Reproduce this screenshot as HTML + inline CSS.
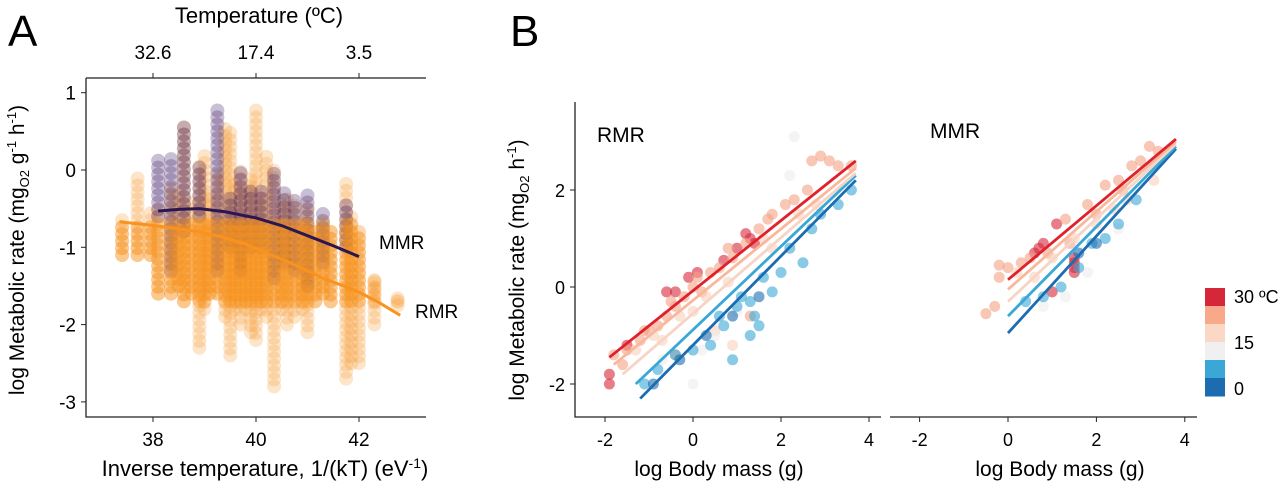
<!DOCTYPE html>
<html><head><meta charset="utf-8"><style>
body{margin:0;background:#fff;}
svg{display:block;font-family:"Liberation Sans",sans-serif;}
</style></head><body>
<svg id="c" width="1280" height="483" viewBox="0 0 1280 483">
<text x="8" y="46" font-size="44">A</text>
<text x="510" y="46" font-size="44">B</text>
<g id="pa"></g>
<g id="pb"></g>
</svg>
<script>
// ---------- Panel A data ----------
const colX = [37.4,37.7,37.95,38.1,38.35,38.5,38.6,38.75,38.9,39.0,39.1,39.25,39.4,39.5,39.6,39.7,39.8,39.9,40.0,40.1,40.2,40.35,40.5,40.6,40.75,40.9,41.0,41.15,41.3,41.45,41.75,41.85,42.0,42.3,42.75];
const rmrMax = [-0.6,-0.05,-0.5,-0.5,-0.2,-0.3,0.55,-0.4,0.1,0.2,-0.3,0.0,0.55,0.5,-0.1,0.0,-0.2,-0.1,0.8,-0.3,0.2,0.0,-0.4,-0.3,-0.4,-0.7,-0.4,-0.8,-0.7,-0.8,-0.1,-0.6,-0.8,-1.4,-1.65];
const rmrMin = [-1.1,-1.1,-1.1,-1.6,-1.6,-1.5,-1.7,-1.6,-2.3,-1.8,-1.6,-1.6,-1.9,-2.4,-1.8,-2.0,-1.8,-2.1,-2.2,-1.8,-1.9,-2.8,-1.8,-2.0,-1.9,-1.8,-2.1,-1.7,-1.6,-1.7,-2.7,-2.5,-2.5,-2.0,-1.75];
const mmrX = [38.1,38.35,38.6,38.9,39.25,39.5,39.7,39.9,40.1,40.35,40.55,40.75,41.0,41.3,41.75];
const mmrMax = [0.2,0.2,0.6,0.1,0.85,-0.3,0.0,-0.2,-0.2,0.0,-0.3,-0.4,-0.3,-0.5,-0.4];
const mmrMin = [-0.6,-1.3,-0.8,-0.6,-1.3,-1.0,-1.3,-1.0,-1.0,-1.4,-1.2,-1.3,-1.5,-1.2,-1.0];
const mmrCurveX = [38.1,38.5,38.9,39.4,40.0,40.5,41.0,41.5,42.0];
const mmrCurveY = [-0.53,-0.51,-0.5,-0.54,-0.62,-0.72,-0.85,-0.98,-1.12];
const rmrCurveX = [37.35,37.9,38.4,38.9,39.3,39.8,40.3,40.8,41.3,41.7,42.0,42.4,42.8];
const rmrCurveY = [-0.67,-0.71,-0.75,-0.8,-0.86,-0.96,-1.1,-1.24,-1.4,-1.5,-1.58,-1.72,-1.88];
const aXTicks = [38,40,42];
const aTopTicks = ["32.6","17.4","3.5"];
const aYTicks = [1,0,-1,-2,-3];

// ---------- Panel B data ----------
const catColors = ["#1b6cb0","#3aa7d6","#ececec","#fbd1bd","#f4a283","#d6263a"];
const rmrPtsX = [-1.9,-1.9,-1.5,-0.6,-0.4,-0.1,0.1,0.7,1.0,1.2,1.3,1.4,
 -1.8,-1.6,-1.2,-1.0,-0.8,-0.6,-0.4,-0.2,0,0.2,0.4,0.6,0.9,1.2,1.5,1.8,2.1,2.3,2.6,2.9,3.1,3.3,3.6,1.3,-0.4,-1.5,-1.1,-0.5,0.1,0.8,1.7,2.7,
 -1.3,-0.9,-0.3,0.3,0.8,1.6,2.4,2.8,0.5,1.8,0.9,-0.7,0.0,
 -0.7,0.2,0.5,1.0,2.2,2.3,0.0,
 -1.1,-0.8,-0.4,0,0.4,0.7,1.0,1.3,1.4,1.5,1.3,1.8,2.0,2.5,2.2,2.7,3.3,3.6,0.9,1.6,0.6,1.1,2.9,
 -0.9,-0.3,0.3,0.9,1.5];
const rmrPtsY = [-2.0,-1.8,-1.2,-0.1,-0.1,0.2,0.3,0.55,0.8,1.1,1.0,0.9,
 -1.4,-1.6,-1.1,-0.9,-0.8,-0.6,-0.4,-0.2,0,-0.1,0.3,0.4,0.6,0.9,1.2,1.5,1.7,1.8,2.0,2.7,2.6,2.5,2.5,-0.6,-1.4,-1.3,-0.9,-0.3,0.2,0.8,1.4,2.6,
 -1.3,-1.0,-0.6,-0.2,0.1,1.0,1.5,1.7,-0.9,0.8,-1.2,-1.1,-0.5,
 -1.5,-1.3,-1.0,-0.5,2.3,3.1,-2.0,
 -2.0,-1.7,-1.4,-1.3,-1.2,-0.8,-0.4,-0.3,-0.6,-0.8,-1.0,-0.1,0.3,0.5,0.8,1.2,1.7,2.0,-1.5,0.2,-0.6,-0.2,1.5,
 -2.0,-1.5,-1.0,-0.6,-0.2];
const rmrPtsC = [5,5,5,5,5,5,5,5,5,5,5,5,
 4,4,4,4,4,4,4,4,4,4,4,4,4,4,4,4,4,4,4,4,4,4,4,4,4,4,4,4,4,4,4,4,
 3,3,3,3,3,3,3,3,3,3,3,3,3,
 2,2,2,2,2,2,2,
 1,1,1,1,1,1,1,1,1,1,1,1,1,1,1,1,1,1,1,1,1,1,1,
 0,0,0,0,0];
const mmrPtsX = [0.8,0.7,0.6,1.1,1.5,1.5,1.5,1.5,1.0,
 -0.2,-0.2,-0.3,0,0.3,0.5,1.3,1.8,2.2,2.5,2.8,3.0,3.2,3.4,-0.5,1.4,2.0,0.9,2.6,
 0.2,0.6,1.0,1.5,2.0,2.4,2.7,3.3,
 0.8,1.3,1.8,2.5,
 0.4,0.8,1.2,1.6,1.9,2.2,2.5,2.9,
 1.6,2.0];
const mmrPtsY = [0.9,0.8,0.7,1.3,0.4,0.6,0.3,0.5,-0.1,
 0.45,0.2,-0.4,0.4,0.5,0.6,1.4,1.7,2.1,2.2,2.5,2.6,2.9,2.8,-0.55,0.9,1.5,0.7,2.0,
 0.3,0.2,0.6,1.0,1.3,1.6,1.8,2.2,
 -0.4,-0.2,0.3,1.2,
 -0.3,-0.2,0.0,0.4,0.9,1.0,1.3,1.8,
 0.7,0.9];
const mmrPtsC = [5,5,5,5,5,5,5,5,5,
 4,4,4,4,4,4,4,4,4,4,4,4,4,4,4,4,4,4,4,
 3,3,3,3,3,3,3,3,
 2,2,2,2,
 1,1,1,1,1,1,1,1,
 0,0];
const lineColors = ["#1b6cb0","#3aa7d6","#f6d5c6","#f8b89c","#e0202a"];
const rmrLineX0 = [-1.2,-1.3,-1.6,-1.8,-1.9];
const rmrLineY0 = [-2.3,-2.0,-1.8,-1.6,-1.45];
const rmrLineX1 = [3.7,3.7,3.7,3.7,3.7];
const rmrLineY1 = [2.2,2.3,2.35,2.45,2.6];
const mmrLineX0 = [0,0,0,0,0];
const mmrLineY0 = [-0.95,-0.6,-0.3,-0.05,0.15];
const mmrLineX1 = [3.8,3.8,3.8,3.8,3.8];
const mmrLineY1 = [2.85,2.9,2.95,3.0,3.05];
const bXTicks = [-2,0,2,4];
const bYTicks = [2,0,-2];
const legendLabels = ["30 ºC","15","0"];

const NS="http://www.w3.org/2000/svg";
function mk(p,tag,attrs,txt){const e=document.createElementNS(NS,tag);for(const k in attrs)e.setAttribute(k,attrs[k]);if(txt!==undefined)e.textContent=txt;p.appendChild(e);return e;}

// ---- Panel A ----
const pa=document.getElementById('pa');
const ax=v=>153+(v-38)*51.5, ay=v=>170-v*77.3;
mk(pa,'path',{d:'M86 78 H426 M86 78 V417 H426',fill:'none',stroke:'#222','stroke-width':1.3});
aXTicks.forEach((t,i)=>{
 const g=mk(pa,'g',{});
 
 
 mk(g,'line',{x1:ax(t),x2:ax(t),y1:417,y2:422,stroke:'#222'});
 mk(g,'text',{x:ax(t),y:446,'font-size':19,'text-anchor':'middle'},t);
 const h=mk(pa,'g',{});
 
 
 mk(h,'line',{x1:ax(t),x2:ax(t),y1:73,y2:78,stroke:'#222'});
 mk(h,'text',{x:ax(t),y:59,'font-size':19,'text-anchor':'middle'},aTopTicks[i]);
});
aYTicks.forEach(t=>{
 const g=mk(pa,'g',{});
 
 
 mk(g,'line',{x1:81,x2:86,y1:ay(t),y2:ay(t),stroke:'#222'});
 mk(g,'text',{x:76,y:ay(t)+7,'font-size':19,'text-anchor':'end'},t);
});
function column(x,y0,y1,col,op,nm){
 const g=mk(pa,'g',{});
 
 
 for(let y=y1;y<=y0+1e-9;y+=0.09){mk(g,'circle',{cx:ax(x),cy:ay(y),r:7,fill:col,'fill-opacity':op});}
}
colX.forEach((x,i)=>column(x,rmrMax[i],rmrMin[i],'#f8a040',0.28,'rmr-column'));
mmrX.forEach((x,i)=>column(x,mmrMax[i],mmrMin[i],'#3e1a66',0.28,'mmr-column'));
colX.forEach((x,i)=>column(x,Math.min(rmrMax[i],-0.7),Math.max(rmrMin[i],-1.7),'#f7931e',0.35,'rmr-core'));
let dM=mmrCurveX.map((x,i)=>(i?'L':'M')+ax(x)+' '+ay(mmrCurveY[i])).join(' ');
const lm=mk(pa,'path',{d:dM,fill:'none',stroke:'#2b1650','stroke-width':3});


let dR=rmrCurveX.map((x,i)=>(i?'L':'M')+ax(x)+' '+ay(rmrCurveY[i])).join(' ');
const lr=mk(pa,'path',{d:dR,fill:'none',stroke:'#f7931e','stroke-width':3});


</script>
<script>
const pa2=document.getElementById('pa');
pa2.insertAdjacentHTML('beforeend',
 '<text x="379" y="249" font-size="19">MMR</text>'+
 '<text x="415" y="318" font-size="19">RMR</text>'+
 '<text x="259" y="23" font-size="22" text-anchor="middle">Temperature (ºC)</text>'+
 '<text x="265" y="476" font-size="22" text-anchor="middle">Inverse temperature, 1/(kT) (eV<tspan dy="-8" font-size="14">-1</tspan><tspan dy="8">)</tspan></text>'+
 '<text transform="translate(24,250) rotate(-90)" font-size="21" text-anchor="middle">log Metabolic rate (mg<tspan dy="5" font-size="13">O2</tspan><tspan dy="-5"> g</tspan><tspan dy="-8" font-size="13">-1</tspan><tspan dy="8"> h</tspan><tspan dy="-8" font-size="13">-1</tspan><tspan dy="8">)</tspan></text>');

// ---- Panel B ----
const pb=document.getElementById('pb');
const bxL=v=>693+v*44, bxR=v=>1008+v*44.2, by=v=>287-v*48.5;
mk(pb,'path',{d:'M575 102 V417 H881 M890 417 H1197',fill:'none',stroke:'#222','stroke-width':1.3});
bXTicks.forEach(t=>{
 [bxL,bxR].forEach((f,k)=>{
  const g=mk(pb,'g',{});
  
  
  mk(g,'line',{x1:f(t),x2:f(t),y1:417,y2:422,stroke:'#222'});
  mk(g,'text',{x:f(t),y:446,'font-size':18,'text-anchor':'middle'},t);
 });
});
bYTicks.forEach(t=>{
 const g=mk(pb,'g',{});
 
 
 mk(g,'line',{x1:570,x2:575,y1:by(t),y2:by(t),stroke:'#222'});
 mk(g,'text',{x:565,y:by(t)+7,'font-size':18,'text-anchor':'end'},t);
});
rmrPtsX.forEach((x,i)=>{
 const c=mk(pb,'circle',{cx:bxL(x),cy:by(rmrPtsY[i]),r:5.5,fill:catColors[rmrPtsC[i]],'fill-opacity':0.6});
 
 
});
mmrPtsX.forEach((x,i)=>{
 const c=mk(pb,'circle',{cx:bxR(x),cy:by(mmrPtsY[i]),r:5.5,fill:catColors[mmrPtsC[i]],'fill-opacity':0.6});
 
 
});
lineColors.forEach((col,i)=>{
 const l=mk(pb,'line',{x1:bxL(rmrLineX0[i]),y1:by(rmrLineY0[i]),x2:bxL(rmrLineX1[i]),y2:by(rmrLineY1[i]),stroke:col,'stroke-width':2.8});
 
 
 const m=mk(pb,'line',{x1:bxR(mmrLineX0[i]),y1:by(mmrLineY0[i]),x2:bxR(mmrLineX1[i]),y2:by(mmrLineY1[i]),stroke:col,'stroke-width':2.8});
 
 
});
const legCols=["#d6263a","#f7a98a","#fbd7c6","#f0f0f0","#3aa7d6","#1b6cb0"];
legCols.forEach((c,i)=>{
 const r=mk(pb,'rect',{x:1205,y:288+i*18,width:20,height:18.5,fill:c});
 
 
});
[[legendLabels[0],303],[legendLabels[1],349],[legendLabels[2],395]].forEach(([t,y])=>{
 const e=mk(pb,'text',{x:1234,y:y,'font-size':18},t);
 
 
});
pb.insertAdjacentHTML('beforeend',
 '<text x="597" y="142" font-size="21">RMR</text>'+
 '<text x="930" y="138" font-size="21">MMR</text>'+
 '<text x="719" y="476" font-size="21" text-anchor="middle">log Body mass (g)</text>'+
 '<text x="1060" y="476" font-size="21" text-anchor="middle">log Body mass (g)</text>'+
 '<text transform="translate(524,270) rotate(-90)" font-size="21" text-anchor="middle">log Metabolic rate (mg<tspan dy="5" font-size="13">O2</tspan><tspan dy="-5"> h</tspan><tspan dy="-8" font-size="13">-1</tspan><tspan dy="8">)</tspan></text>');
</script>
</body></html>
